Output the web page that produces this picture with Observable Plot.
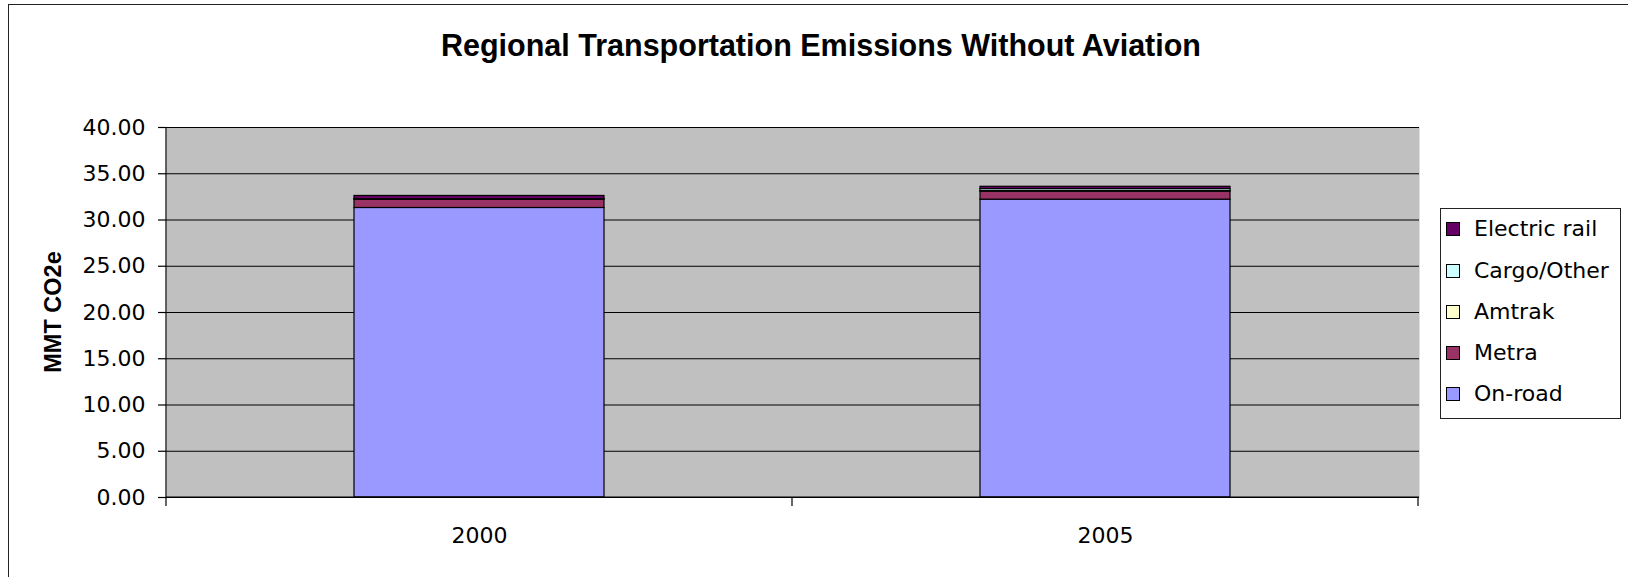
<!DOCTYPE html>
<html>
<head>
<meta charset="utf-8">
<script src="https://cdn.jsdelivr.net/npm/d3@7"></script>
<script src="https://cdn.jsdelivr.net/npm/@observablehq/plot@0.6"></script>
<style>
  html, body { margin: 0; padding: 0; background: #fff; }
  #wrap { position: relative; width: 1628px; height: 577px; overflow: hidden; font-family: "DejaVu Sans", sans-serif; }
  #border { position: absolute; left: 8px; top: 4px; width: 1700px; height: 700px; border: 1.5px solid #222; box-sizing: border-box; pointer-events: none; }
  #title { position: absolute; left: 0; width: 1642px; top: 28px; text-align: center; font-family: "Liberation Sans", Arial, sans-serif; font-weight: bold; font-size: 30.5px; color: #000; }
  #ytitle { position: absolute; left: 53px; top: 312px; transform: translate(-50%, -50%) rotate(-90deg); font-family: "Liberation Sans", Arial, sans-serif; font-weight: bold; font-size: 23.5px; white-space: nowrap; color: #000; }
  #legend { position: absolute; left: 1440px; top: 208px; width: 181px; height: 211px; border: 1.5px solid #222; box-sizing: border-box; background: #fff; }
  .item { position: absolute; left: 5px; font-size: 22px; white-space: nowrap; display: flex; align-items: center; color: #000; }
  .sw { width: 14px; height: 14px; border: 1px solid #000; margin-right: 14px; box-sizing: border-box; }
  #chart { position: absolute; left: 0; top: 0; }
</style>
</head>
<body>
<div id="wrap">
  <div id="chart"></div>
  <div id="border"></div>
  <div id="title">Regional Transportation Emissions Without Aviation</div>
  <div id="ytitle">MMT CO2e</div>
  <div id="legend"></div>
</div>
<script>
// ---- data ----
const years = ["2000", "2005"];
const series = ["On-road", "Metra", "Amtrak", "Cargo/Other", "Electric rail"];
const seriesColors = ["#9999FF", "#993366", "#FFFFCC", "#CCFFFF", "#660066"];
const legendOrder = ["Electric rail", "Cargo/Other", "Amtrak", "Metra", "On-road"];
const onRoad = [31.30, 32.20];
const metra = [0.92, 0.87];
const amtrak = [0.01, 0.05];
const cargoOther = [0.01, 0.22];
const electricRail = [0.36, 0.25];
const yTicks = [0, 5, 10, 15, 20, 25, 30, 35, 40];

const valuesBySeries = {
  "On-road": onRoad, "Metra": metra, "Amtrak": amtrak,
  "Cargo/Other": cargoOther, "Electric rail": electricRail
};
const data = [];
series.forEach(s => years.forEach((y, i) => data.push({year: y, series: s, value: valuesBySeries[s][i]})));

// custom axis edges and category-boundary ticks
function edges(index, scales, values, dims) {
  const g = d3.create("svg:g").attr("stroke", "#000").attr("stroke-width", 1.2);
  const x = scales.x, y = scales.y;
  const bw = x.bandwidth ? x.bandwidth() : 0;
  const step = x(years[1]) - x(years[0]);
  const y0 = y(0), yTop = y(40);
  const left = dims.marginLeft, right = dims.width - dims.marginRight;
  g.append("line").attr("x1", left).attr("x2", left).attr("y1", yTop).attr("y2", y0);
  g.append("line").attr("x1", left).attr("x2", right).attr("y1", y0).attr("y2", y0);
  const bounds = [];
  years.forEach(c => { const cx = x(c) + bw / 2; bounds.push(cx - step / 2, cx + step / 2); });
  Array.from(new Set(bounds.map(b => Math.round(b)))).forEach(b => {
    g.append("line").attr("x1", b).attr("x2", b).attr("y1", y0).attr("y2", y0 + 9);
  });
  return g.node();
}

const chart = Plot.plot({
  width: 1628,
  height: 577,
  marginLeft: 166,
  marginRight: 209,
  marginTop: 127,
  marginBottom: 80,
  style: { fontFamily: "DejaVu Sans, sans-serif", fontSize: "22px", color: "#000", background: "transparent", overflow: "visible" },
  x: { domain: years, paddingInner: 0.6, paddingOuter: 0.3, label: null },
  y: { domain: [0, 40], label: null },
  color: { domain: series, range: seriesColors },
  marks: [
    Plot.frame({ fill: "#C0C0C0", stroke: null }),
    Plot.ruleY(yTicks, { stroke: "#000", strokeWidth: 1.2 }),
    Plot.barY(data, { x: "year", y: "value", fill: "series", stroke: "#000", strokeWidth: 1.2, order: series }),
    Plot.axisY({ ticks: yTicks, tickFormat: d => d.toFixed(2), tickSize: 8, tickPadding: 13, stroke: "#000", strokeWidth: 1.2, label: null, fill: "#000" }),
    Plot.axisX({ tickSize: 0, tickPadding: 30, label: null, fill: "#000" }),
    edges
  ]
});
document.getElementById("chart").appendChild(chart);

// legend
const leg = document.getElementById("legend");
const itemTops = [7, 49, 90, 131, 172];
legendOrder.forEach((s, i) => {
  const d = document.createElement("div");
  d.className = "item";
  d.style.top = itemTops[i] + "px";
  const sw = document.createElement("div");
  sw.className = "sw";
  sw.style.background = seriesColors[series.indexOf(s)];
  const t = document.createElement("span");
  t.textContent = s;
  d.appendChild(sw); d.appendChild(t);
  leg.appendChild(d);
});
</script>
</body>
</html>
